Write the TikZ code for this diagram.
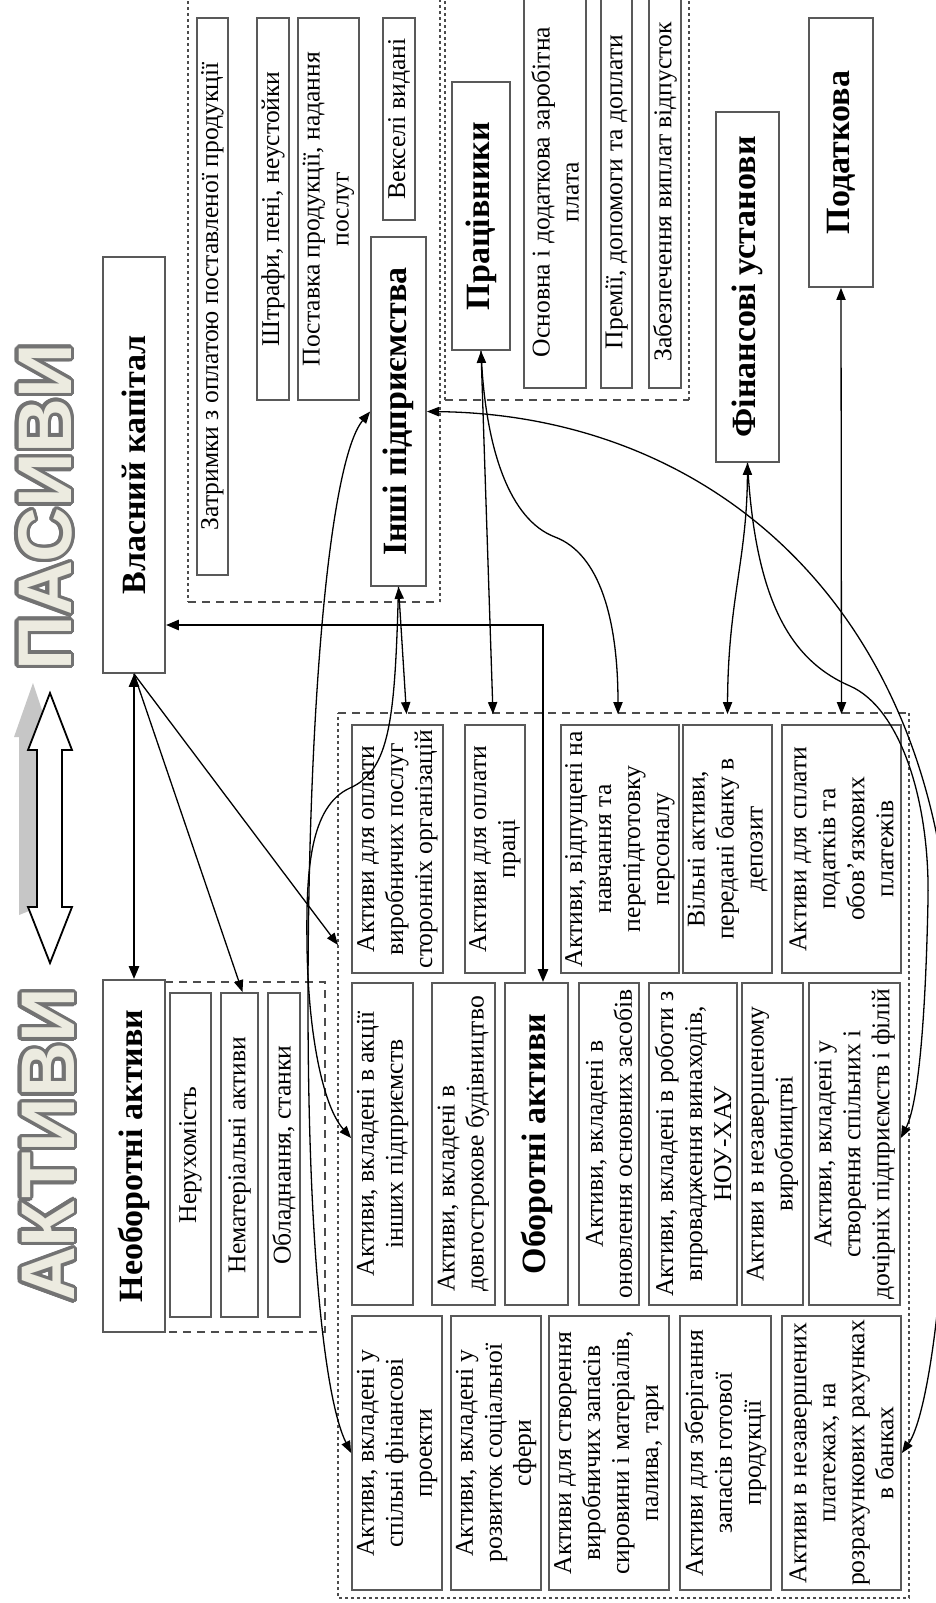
\documentclass[tikz,border=0pt]{standalone}
\usepackage{fontspec}
\setmainfont{Liberation Serif}
\newfontfamily\bigsans{Liberation Sans}
\usetikzlibrary{arrows.meta,calc}
\definecolor{beige}{HTML}{ECEBE0}
\tikzset{
  box/.style={draw=black!65, line width=0.9pt, inner sep=0pt, fill=white},
  txt/.style={font=\fontsize{12.8}{14.5}\selectfont, align=center, inner sep=0pt, rotate=90},
  txtl/.style={font=\fontsize{12.8}{14.5}\selectfont, align=left, inner sep=0pt, rotate=90},
  btxt/.style={font=\fontsize{17}{20}\selectfont\bfseries, align=center, inner sep=0pt, rotate=90},
  bigw/.style={font=\bigsans\bfseries\fontsize{38}{40}\selectfont, inner sep=0pt, rotate=90},
  grpA/.style={draw=black!70, line width=0.7pt, dash pattern=on 4pt off 3pt},
  grpB/.style={draw=black!70, line width=0.7pt, dash pattern=on 1.5pt off 1.5pt},
  con/.style={line width=0.65pt, -{Triangle[length=6pt,width=4.6pt]}},
  bcon/.style={line width=0.65pt, {Triangle[length=6pt,width=4.6pt]}-{Triangle[length=6pt,width=4.6pt]}},
  tcon/.style={line width=1.3pt, {Triangle[length=6.5pt,width=5pt]}-{Triangle[length=6.5pt,width=5pt]}},
}
% #1 text style, #2 name, #3 x1, #4 y1, #5 x2, #6 y2, #7 text
\newcommand\bx[7][txt]{%
  \node[box, minimum width={((#5)-(#3))*0.5pt}, minimum height={((#6)-(#4))*0.5pt}] (#2) at ({((#3)+(#5))/2},{((#4)+(#6))/2}) {};
  \node[#1] (#2t) at (#2.center) {#7};
}
\newcommand\bigword[4]{%
  \foreach \a in {0,20,...,340} \node[bigw, text=black!55] at ($(#2,#3)+(\a:3.4)$) {#4};
  \node[bigw, text=beige] (#1) at (#2,#3) {#4};
}
\begin{document}
\begin{tikzpicture}[x=0.5pt,y=-0.5pt]
\useasboundingbox (0,0) rectangle (936,1603);
\fill[white] (0,0) rectangle (936,1603);

% big words and double arrow
\bigword{pas}{45}{507}{ПАСИВИ}
\bigword{akt}{48}{1145}{АКТИВИ}
\fill[gray!45] (33,683) -- (51,737) -- (44,737) -- (44,905) -- (19,915) -- (19,737) -- (14,737) -- cycle;
\draw[fill=white, line width=0.9pt] (50,693) -- (72,750) -- (62,750) -- (62,907) -- (72,907) -- (50,963) -- (28,907) -- (37,907) -- (37,750) -- (28,750) -- cycle;

% groups
\draw[grpA] (165,982) -- (325,982) -- (325,1332) -- (165,1332);
\draw[grpB] (188,-5) -- (188,602);
\draw[grpA] (188,602) -- (440,602);
\draw[grpB] (440,602) -- (440,-5);
\draw[grpB] (445,-5) -- (445,400);
\draw[grpA] (445,400) -- (689,400);
\draw[grpB] (689,400) -- (689,-5);
\draw[grpA] (338,713) -- (909,713);
\draw[grpB] (909,713) -- (909,1598) -- (338,1598) -- (338,713);

% left column
\bx[btxt]{vk}{103}{257}{165}{673}{Власний капітал}
\bx[btxt]{na}{103}{980}{165}{1332}{Необоротні активи}
\bx{n1}{170}{993}{211}{1317}{Нерухомість}
\bx{n2}{221}{993}{258}{1317}{Нематеріальні активи}
\bx{n3}{268}{993}{300}{1317}{Обладнання, станки}

% top group
\bx{p1}{197}{18}{228}{575}{Затримки з оплатою поставленої продукції}
\bx{p2}{257}{18}{289}{400}{Штрафи, пені, неустойки}
\bx{p3}{298}{18}{359}{400}{Поставка продукції, надання\\послуг}
\bx{p4}{383}{18}{415}{220}{Векселі видані}
\bx[btxt]{ip}{371}{237}{426}{586}{Інші підприємства}

% workers group
\bx[btxt]{pr}{452}{82}{510}{350}{Працівники}
\bx{w1}{524}{-4}{586}{388}{Основна і додаткова заробітна\\плата}
\bx{w2}{601}{-4}{632}{388}{Премії, допомоги та доплати}
\bx{w3}{649}{-4}{681}{388}{Забезпечення виплат відпусток}
\bx[btxt]{fu}{716}{112}{779}{462}{Фінансові установи}
\bx[btxt]{pd}{809}{18}{873}{287}{Податкова}

% assets
\bx{a1}{352}{725}{443}{973}{Активи для оплати\\виробничих послуг\\сторонніх організацій}
\bx{a2}{465}{725}{525}{973}{Активи для оплати\\праці}
\bx{a3}{561}{725}{679}{973}{Активи, відпущені на\\навчання та\\перепідготовку\\персоналу}
\bx{a4}{683}{725}{772}{973}{Вільні активи,\\передані банку в\\депозит}
\bx{a5}{782}{725}{901}{973}{Активи для сплати\\податків та\\обов’язкових\\платежів}
\bx{b1}{352}{983}{413}{1305}{Активи, вкладені в акції\\інших підприємств}
\bx[txtl]{b2}{432}{983}{495}{1305}{Активи, вкладені в\\довгострокове будівництво}
\bx[btxt]{b3}{505}{983}{568}{1305}{Оборотні активи}
\bx{b4}{579}{983}{639}{1305}{Активи, вкладені в\\оновлення основних засобів}
\bx{b5}{649}{983}{737}{1305}{Активи, вкладені в роботи з\\впровадження винаходів,\\НОУ-ХАУ}
\bx{b6}{742}{983}{803}{1305}{Активи в незавершеному\\виробництві}
\bx{b7}{809}{983}{900}{1305}{Активи, вкладені у\\створення спільних і\\дочірніх підприємств і філій}
\bx{c1}{352}{1316}{442}{1590}{Активи, вкладені у\\спільні фінансові\\проекти}
\bx{c2}{451}{1316}{541}{1590}{Активи, вкладені у\\розвиток соціальної\\сфери}
\bx{c3}{549}{1316}{669}{1590}{Активи для створення\\виробничих запасів\\сировини і матеріалів,\\палива, тари}
\bx{c4}{680}{1316}{771}{1590}{Активи для зберігання\\запасів готової\\продукції}
\bx{c5}{782}{1316}{901}{1590}{Активи в незавершених\\платежах, на\\розрахункових рахунках\\в банках}

% connectors
\coordinate (t3) at (338,945);
\coordinate (k4) at (543,625);
\draw[tcon] (vk.south) -- (na.north);
\draw[con] (vk.south) -- ($(n2.north)+(3,0)$);
\draw[con] (vk.south) -- (t3);
\draw[tcon] (vk.east |- k4) -- (k4) -- (k4 |- b3.north);
\draw[bcon] (ip.south) -- ($(a1.north)+(9,-10)$);
\draw[con] (ip.south) .. controls (395,720) and (390,770) .. (350,788) .. controls (310,806) and (306,870) .. (307,945) .. controls (308,1030) and (322,1105) .. ($(b1.west)+(0,-6)$);
\draw[bcon] (ip.west) .. controls (330,460) and (308,700) .. (308,1000) .. controls (308,1250) and (325,1400) .. (c1.west);
\draw[bcon] (pr.south) -- ($(a2.north)+(-2,-10)$);
\draw[con] (pr.south) .. controls (485,450) and (510,520) .. (555,537) .. controls (600,554) and (618,620) .. ($(a3.north)+(-2,-10)$);
\draw[bcon] (ip.east) .. controls (720,415) and (955,620) .. (952,1000) .. controls (950,1300) and (925,1420) .. (c5.east);
\draw[bcon] (fu.south) .. controls (747,560) and (728,600) .. ($(a4.north)+(0,-10)$);
\draw[con] (fu.south) .. controls (755,600) and (790,660) .. (850,686) .. controls (900,708) and (930,800) .. (928,900) .. controls (926,1000) and (920,1100) .. ($(b7.east)+(0,-6)$);
\draw[bcon] (pd.south) -- ($(a5.north)+(0,-10)$);
\end{tikzpicture}
\end{document}
